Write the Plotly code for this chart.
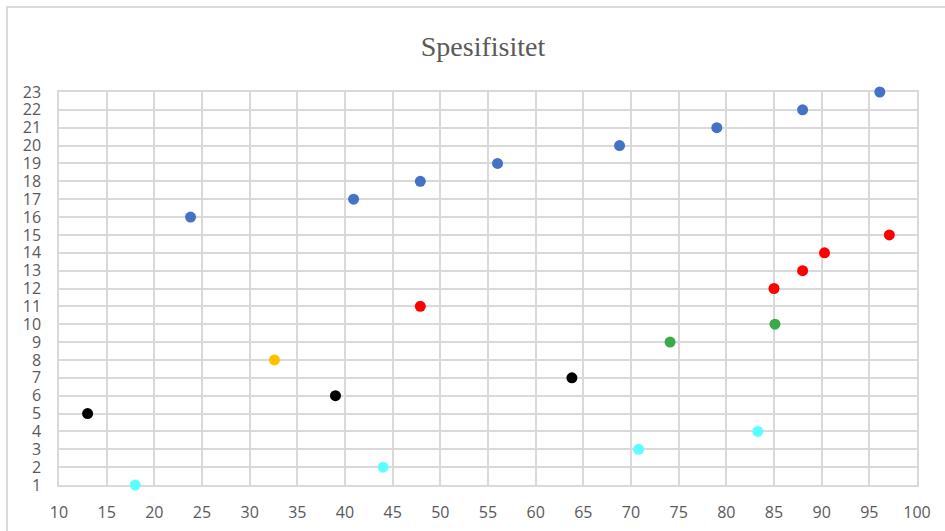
import plotly.graph_objects as go

# Series values (x = spesifisitet, y = rad)
cyan_x = [18, 44, 70.8, 83.3]
cyan_y = [1, 2, 3, 4]
black_x = [13, 39, 63.8]
black_y = [5, 6, 7]
yellow_x = [32.6]
yellow_y = [8]
green_x = [74.1, 85.1]
green_y = [9, 10]
red_x = [47.9, 85, 88, 90.3, 97.1]
red_y = [11, 12, 13, 14, 15]
blue_x = [23.8, 40.9, 47.9, 56, 68.8, 79, 88, 96.1]
blue_y = [16, 17, 18, 19, 20, 21, 22, 23]

x_ticks = list(range(10, 101, 5))
y_ticks = list(range(1, 24))

series = [
    (cyan_x, cyan_y, "#5CFFFF"),
    (black_x, black_y, "#000000"),
    (yellow_x, yellow_y, "#FFC000"),
    (green_x, green_y, "#3AAA4A"),
    (red_x, red_y, "#FF0000"),
    (blue_x, blue_y, "#4472C4"),
]

fig = go.Figure()
for xs, ys, c in series:
    fig.add_trace(go.Scatter(x=xs, y=ys, mode="markers",
                             marker=dict(color=c, size=11, line=dict(width=0)),
                             cliponaxis=False, showlegend=False))

L, R, T, B = 59, 28, 92, 46
W, H = 945, 531
pw, ph = W - L - R, H - T - B

tickfont = dict(family="Open Sans, Liberation Sans, sans-serif", size=16, color="#595959")
axis_common = dict(showgrid=True, gridcolor="#D9D9D9", gridwidth=1.5,
                   showline=True, linecolor="#D9D9D9", linewidth=1.5, mirror=True,
                   zeroline=False, ticks="", tickfont=tickfont, layer="below traces",
                   automargin=False)
fig.update_layout(
    width=W, height=H,
    margin=dict(l=L, r=R, t=T, b=B),
    paper_bgcolor="white", plot_bgcolor="white",
    title=dict(text="Spesifisitet", x=483 / W, xanchor="center", y=1 - 46 / H, yanchor="middle",
               font=dict(family="Liberation Serif, Times New Roman, serif", size=28, color="#595959")),
    xaxis=dict(range=[10, 100], tickvals=x_ticks, ticktext=[str(v) for v in x_ticks],
               ticklabelstandoff=12, **axis_common),
    yaxis=dict(range=[1, 23], tickvals=y_ticks, ticktext=[str(v) for v in y_ticks],
               ticklabelstandoff=13, **axis_common),
    shapes=[dict(type="rect", xref="paper", yref="paper",
                 x0=(7 - L) / pw, x1=1 + (W + 5 - (W - R)) / pw,
                 y0=-(H + 5 - (H - B)) / ph, y1=1 + (T - 7) / ph,
                 line=dict(color="#D9D9D9", width=2), layer="below")],
)

fig.write_html("out.html", config={"displayModeBar": False},
               post_script="document.body.style.margin='0';")
